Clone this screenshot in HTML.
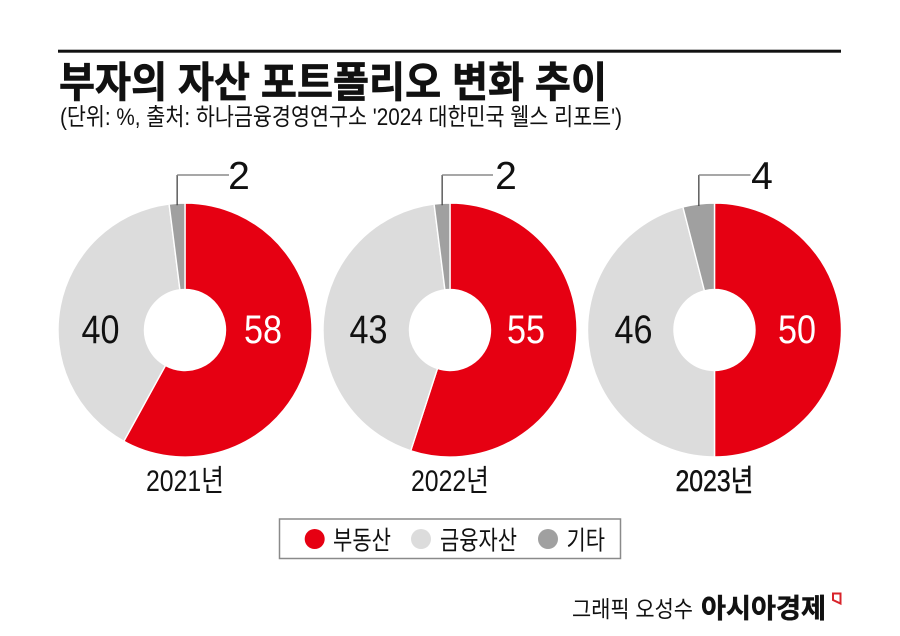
<!DOCTYPE html>
<html lang="ko">
<head>
<meta charset="utf-8">
<style>
html,body{margin:0;padding:0;background:#fff}
#chart{display:block}
text{font-family:"Liberation Sans","Noto Sans CJK KR",sans-serif}
</style>
</head>
<body>
<svg id="chart" width="900" height="636" viewBox="0 0 900 636" xmlns="http://www.w3.org/2000/svg">
  <rect x="58" y="49.7" width="783" height="3" fill="#111"/>
  <text x="59" y="97" font-size="42" font-weight="700" fill="#111" stroke="#111" stroke-width="0.7" textLength="548" lengthAdjust="spacingAndGlyphs">부자의 자산 포트폴리오 변화 추이</text>
  <text x="60" y="125" font-size="24" fill="#111" textLength="562" lengthAdjust="spacingAndGlyphs">(단위: %, 출처: 하나금융경영연구소 '2024 대한민국 웰스 리포트')</text>
  <g id="donuts"></g>
  <rect x="279.5" y="519" width="341" height="39.5" fill="#fff" stroke="#8a8a8a" stroke-width="1.5"/>
  <g id="legend"></g>
  <text x="572" y="617" font-size="23" fill="#111" textLength="121" lengthAdjust="spacingAndGlyphs">그래픽 오성수</text>
  <text x="701" y="618" font-size="27" font-weight="700" fill="#111" stroke="#111" stroke-width="0.5" textLength="125" lengthAdjust="spacingAndGlyphs">아시아경제</text>
  <path d="M833 593.5h7.5v10l-7.5-3.5z" fill="none" stroke="#d8232a" stroke-width="2"/>
</svg>
<script>
const years = ['2021년', '2022년', '2023년'];
const seriesNames = ['부동산', '금융자산', '기타'];
const realEstate = [58, 55, 50];
const financial = [40, 43, 46];
const other = [2, 2, 4];
const seriesColors = ['#e60012', '#dcdcdc', '#a0a0a0'];

const NS = 'http://www.w3.org/2000/svg';
const centerXs = [185, 450, 714.5];
const redLabelDx = [78, 76, 82.5];
const grayLabelDx = [-84.5, -81.5, -81];
const otherLabelDx = [54, 56, 47.5];
const leaderEndDx = [44, 43, 36];
const centerY = 330, outerR = 127, innerR = 40.5;

function make(tag, attrs, parent) {
  const el = document.createElementNS(NS, tag);
  for (const k in attrs) el.setAttribute(k, attrs[k]);
  parent.appendChild(el);
  return el;
}
function angleOf(share) { return share / 100 * 2 * Math.PI; }
function polar(cx, r, a) { return [cx + r * Math.sin(a), centerY - r * Math.cos(a)]; }
function arcPath(cx, a0, a1) {
  const large = a1 - a0 > Math.PI ? 1 : 0;
  const p0 = polar(cx, outerR, a0), p1 = polar(cx, outerR, a1);
  const p2 = polar(cx, innerR, a1), p3 = polar(cx, innerR, a0);
  return 'M' + p0[0] + ' ' + p0[1] + 'A' + outerR + ' ' + outerR + ' 0 ' + large + ' 1 ' + p1[0] + ' ' + p1[1] +
         'L' + p2[0] + ' ' + p2[1] + 'A' + innerR + ' ' + innerR + ' 0 ' + large + ' 0 ' + p3[0] + ' ' + p3[1] + 'Z';
}

const root = document.getElementById('donuts');
years.forEach(function (year, i) {
  const cx = centerXs[i];
  const values = [realEstate[i], financial[i], other[i]];
  const total = values[0] + values[1] + values[2];
  const group = make('g', {}, root);
  
  
  let cum = 0;
  values.forEach(function (v, s) {
    const a0 = angleOf(cum / total * 100);
    cum += v;
    const a1 = angleOf(cum / total * 100);
    const slice = make('path', {d: arcPath(cx, a0, a1), fill: seriesColors[s], stroke: '#fff', 'stroke-width': 1.4}, group);
    
    
  });

  const redLabel = make('text', {x: cx + redLabelDx[i], y: 343, 'font-size': 40, fill: '#fff', 'text-anchor': 'middle', textLength: 38, lengthAdjust: 'spacingAndGlyphs'}, group);
  redLabel.textContent = values[0];
  
  

  const grayLabel = make('text', {x: cx + grayLabelDx[i], y: 343, 'font-size': 40, fill: '#111', 'text-anchor': 'middle', textLength: 38, lengthAdjust: 'spacingAndGlyphs'}, group);
  grayLabel.textContent = values[1];
  
  

  const midOther = 2 * Math.PI - angleOf(values[2] / total * 100) / 2;
  const anchor = polar(cx, outerR - 2, midOther);
  const leaderV = make('line', {x1: anchor[0], y1: anchor[1], x2: anchor[0], y2: 175, stroke: '#444', 'stroke-width': 1.3}, group);
  
  
  const leaderH = make('line', {x1: anchor[0], y1: 175, x2: cx + leaderEndDx[i], y2: 175, stroke: '#8a8a8a', 'stroke-width': 1.5}, group);
  
  

  const otherLabel = make('text', {x: cx + otherLabelDx[i], y: 189, 'font-size': 39, fill: '#111', 'text-anchor': 'middle'}, group);
  otherLabel.textContent = values[2];
  
  

  const yearLabel = make('text', {x: cx, y: 491, 'font-size': 30, fill: '#111', 'text-anchor': 'middle', textLength: 78, lengthAdjust: 'spacingAndGlyphs'}, group);
  yearLabel.textContent = year;
  if (i === 2) {
    yearLabel.setAttribute('stroke', '#111');
    yearLabel.setAttribute('stroke-width', '0.5');
  }
  
  
});

const legendRoot = document.getElementById('legend');
const legendDotX = [314.7, 421, 548];
const legendTextX = [333, 440, 566.5];
const legendTextW = [58, 77, 38.5];
seriesNames.forEach(function (name, i) {
  const dot = make('circle', {cx: legendDotX[i], cy: 539, r: 10, fill: seriesColors[i]}, legendRoot);
  
  
  const t = make('text', {x: legendTextX[i], y: 549.5, 'font-size': 26, fill: '#111', textLength: legendTextW[i], lengthAdjust: 'spacingAndGlyphs'}, legendRoot);
  t.textContent = name;
  
  
});
</script>
</body>
</html>
